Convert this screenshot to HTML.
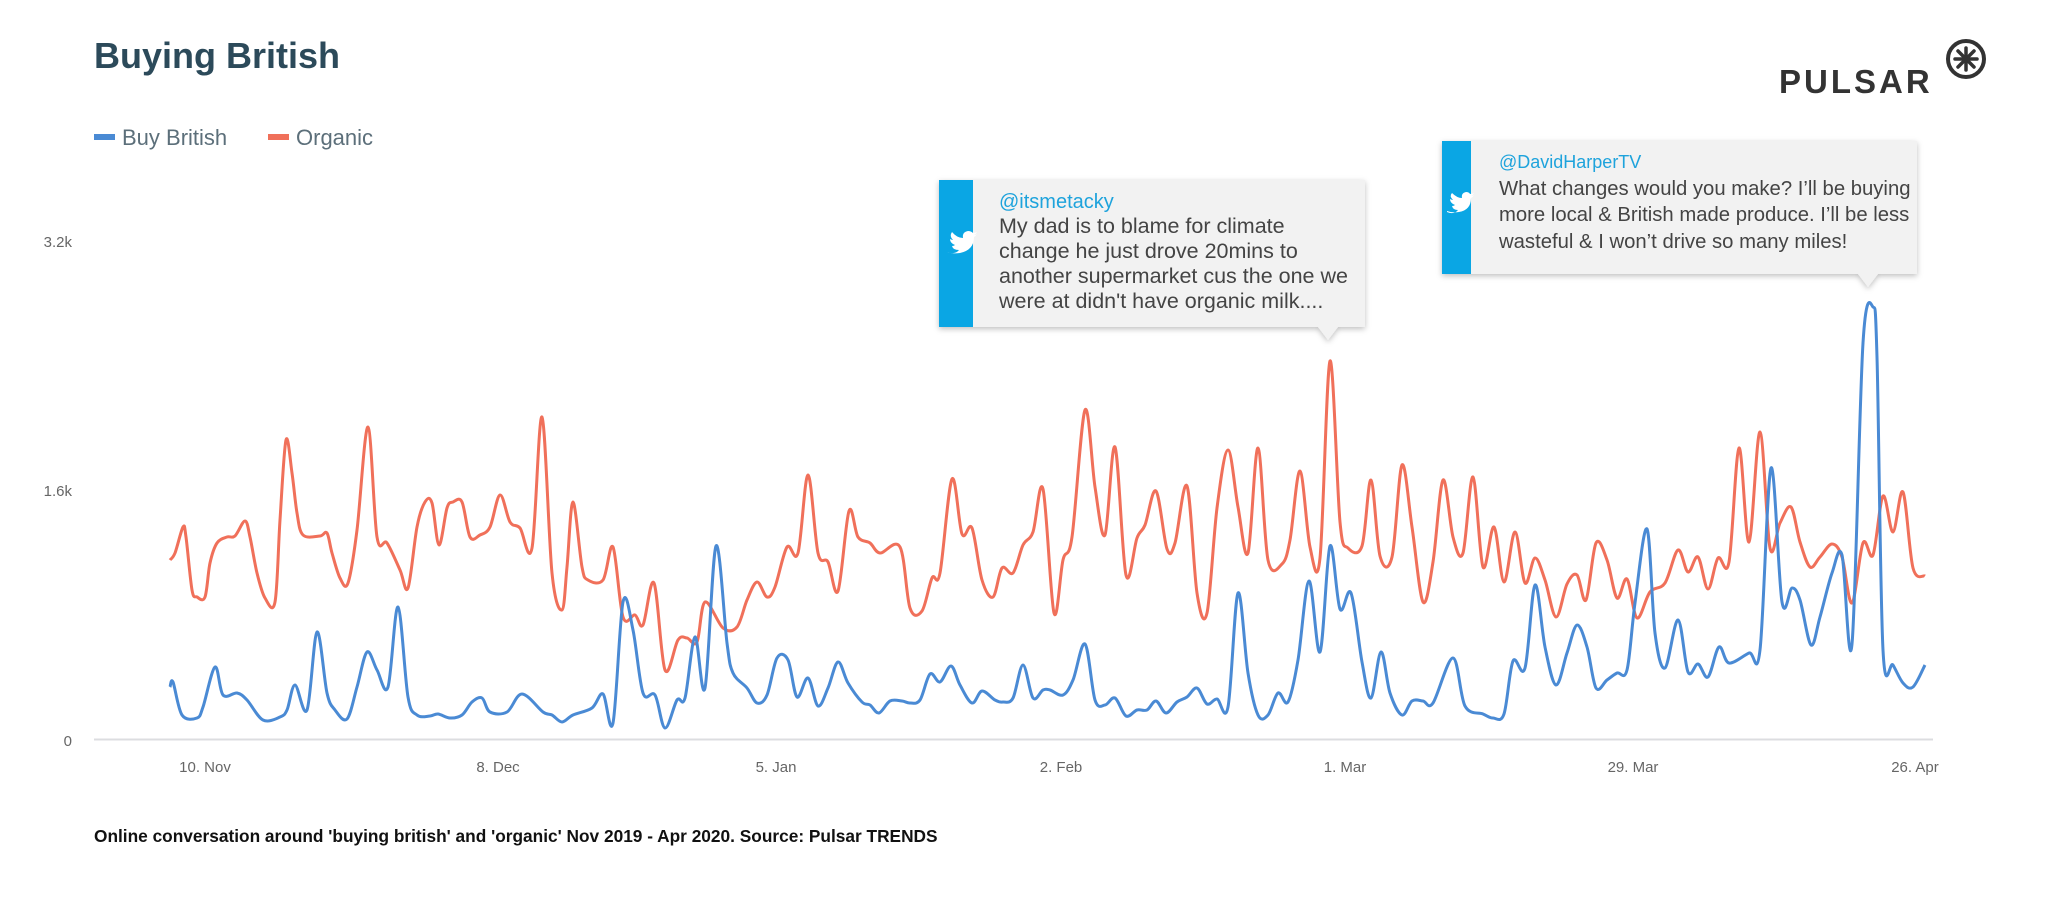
<!DOCTYPE html>
<html><head><meta charset="utf-8"><style>
html,body{margin:0;padding:0;background:#fff;}
svg{display:block;}
text{font-family:"Liberation Sans",sans-serif;}
</style></head><body>
<svg id="s" width="2048" height="897" viewBox="0 0 2048 897" xmlns="http://www.w3.org/2000/svg">
<defs><filter id="sh" x="-10%" y="-10%" width="120%" height="130%"><feDropShadow dx="0" dy="2" stdDeviation="3" flood-color="#000" flood-opacity="0.25"/></filter></defs>
<rect width="2048" height="897" fill="#fff"/>
<text x="94" y="68" font-size="36" font-weight="bold" fill="#2c4a5a">Buying British</text>
<rect x="94" y="134" width="21" height="6" fill="#4a8ad4"/>
<text x="122" y="145" font-size="22" fill="#5c6f7a">Buy British</text>
<rect x="268" y="134" width="21" height="6" fill="#f0705a"/>
<text x="296" y="145" font-size="22" fill="#5c6f7a">Organic</text>
<text x="1779" y="93" font-size="33" font-weight="bold" fill="#333" letter-spacing="3">PULSAR</text>
<circle cx="1966" cy="59" r="18" fill="none" stroke="#333" stroke-width="4"/>
<g stroke="#333" stroke-width="3.5" stroke-linecap="round"><line x1="1966" y1="48" x2="1966" y2="70"/><line x1="1955" y1="59" x2="1977" y2="59"/><line x1="1958" y1="51" x2="1974" y2="67"/><line x1="1974" y1="51" x2="1958" y2="67"/></g>
<g font-size="15" fill="#666" text-anchor="end"><text x="72" y="247">3.2k</text><text x="72" y="496">1.6k</text><text x="72" y="746">0</text></g>
<line x1="94" y1="739.5" x2="1933" y2="739.5" stroke="#dcdde0" stroke-width="2"/>
<g font-size="15" fill="#666" text-anchor="middle"><text x="205" y="772">10. Nov</text><text x="498" y="772">8. Dec</text><text x="776" y="772">5. Jan</text><text x="1061" y="772">2. Feb</text><text x="1345" y="772">1. Mar</text><text x="1633" y="772">29. Mar</text><text x="1915" y="772">26. Apr</text></g>
<path id="red" fill="none" stroke="#f0705a" stroke-width="3" stroke-linejoin="round"/>
<path id="blue" fill="none" stroke="#4a8ad4" stroke-width="3" stroke-linejoin="round"/>
<g filter="url(#sh)"><rect x="939" y="180" width="426" height="147" fill="#f2f2f2"/><polygon points="1318,327 1338,327 1328,340" fill="#f2f2f2"/></g>
<rect x="939" y="180" width="34" height="147" fill="#0aa6e4"/>
<path d="M947,252 q8,3 12,-2 q-6,0 -7,-4 q2,0 3,-1 q-5,-2 -5,-6 q2,1 3,1 q-4,-4 -1,-8 q5,6 11,6 q-1,-6 5,-7 q3,0 5,2 q2,0 4,-1 q-1,2 -3,3 q2,0 3,-1 q-1,2 -3,3 q0,13 -14,16 q-8,1 -13,-1z" fill="#fff"/>
<text x="999" y="208" font-size="20" fill="#1ea3dc">@itsmetacky</text>
<g font-size="21.5" fill="#444"><text x="999" y="233">My dad is to blame for climate</text><text x="999" y="258">change he just drove 20mins to</text><text x="999" y="283">another supermarket cus the one we</text><text x="999" y="308">were at didn't have organic milk....</text></g>
<g filter="url(#sh)"><rect x="1442" y="141" width="475" height="133" fill="#f2f2f2"/><polygon points="1858,274 1878,274 1868,287" fill="#f2f2f2"/></g>
<rect x="1442" y="141" width="29" height="133" fill="#0aa6e4"/>
<path d="M1447,212 q7,3 11,-2 q-5,0 -6,-4 q2,0 3,-1 q-5,-2 -5,-6 q2,1 3,1 q-4,-4 -1,-7 q5,5 10,5 q-1,-5 4,-6 q3,0 4,2 q2,0 4,-1 q-1,2 -3,3 q2,0 3,-1 q-1,2 -3,3 q0,12 -12,14 q-7,1 -12,-1z" fill="#fff"/>
<text x="1499" y="168" font-size="18" fill="#1ea3dc">@DavidHarperTV</text>
<g font-size="20.3" fill="#444"><text x="1499" y="195">What changes would you make? I’ll be buying</text><text x="1499" y="221">more local &amp; British made produce. I’ll be less</text><text x="1499" y="248">wasteful &amp; I won’t drive so many miles!</text></g>
<text x="94" y="842" font-size="17.3" fill="#111" font-weight="bold">Online conversation around 'buying british' and 'organic'  Nov 2019 - Apr 2020. Source: Pulsar TRENDS</text>
</svg>
<script>
var R=[[170,560],[175,553],[183,527],[186,537],[192,590],[197,597],[205,597],[210,563],[217,543],[227,537],[235,536],[245,521],[250,537],[257,573],[265,598],[275,602],[280,520],[286,440],[292,473],[297,513],[303,535],[320,536],[327,533],[332,553],[340,578],[348,583],[357,530],[368,427],[377,537],[387,543],[400,570],[408,588],[417,527],[425,502],[432,503],[439,545],[447,508],[453,502],[462,502],[470,537],[480,535],[490,527],[500,495],[510,522],[520,528],[532,548],[542,417],[552,573],[562,610],[567,567],[573,502],[582,567],[588,580],[603,580],
[613,547],[623,617],[635,615],[643,625],[654,583],[665,670],[678,640],[687,638],[697,642],[705,602],[723,628],[737,627],[747,600],[757,582],[767,597],[775,587],[787,547],[798,553],[808,475],[818,553],[828,562],[838,591],[849,511],[858,537],[870,543],[880,553],[900,547],[910,608],[922,611],[932,578],[940,573],[952,479],[962,534],[972,528],[982,580],[993,597],[1002,568],[1013,573],[1023,545],[1033,532],[1043,489],[1054,613],
[1063,560],[1072,537],[1085,410],[1095,487],[1105,535],[1115,447],[1126,575],[1137,538],[1145,525],[1156,491],[1167,549],[1175,543],[1187,486],[1197,593],[1207,613],[1217,508],[1228,450],[1238,507],[1248,553],[1258,448],[1268,560],[1282,564],[1290,540],[1300,471],[1310,547],[1320,558],[1330,361],[1340,522],[1348,548],[1362,546],[1371,480],[1380,556],[1392,557],[1402,465],[1412,527],[1423,602],[1433,562],[1443,480],[1453,537],[1463,553],[1473,477],[1483,567],[1494,527],
[1504,582],[1515,532],[1525,583],[1535,558],[1545,580],[1556,617],[1567,584],[1577,575],[1586,600],[1596,543],[1607,560],[1617,598],[1627,579],[1637,618],[1650,592],[1665,583],[1678,550],[1688,572],[1698,557],[1708,589],[1718,558],[1729,562],[1739,448],[1749,542],[1760,432],[1770,548],[1780,523],[1791,507],[1800,542],[1810,567],[1820,557],[1832,544],[1842,557],[1852,603],[1863,543],[1873,555],[1883,496],[1893,532],[1903,492],[1913,568],[1925,576]];
var B=[[170,687],[173,682],[182,715],[197,718],[203,707],[215,667],[223,695],[237,693],[247,700],[263,720],[280,717],[287,710],[295,685],[307,710],[317,632],[327,693],[335,710],[347,719],[357,687],[367,652],[377,670],[388,687],[398,607],[408,697],[417,715],[430,716],[438,714],[450,718],[462,715],[472,702],[482,698],[490,712],[507,712],[522,694],[543,712],[552,715],[562,722],[573,715],[592,708],[603,694],[613,723],
[623,602],[633,630],[643,693],[655,695],[665,728],[677,700],[685,698],[695,637],[705,688],[716,546],[727,643],[733,673],[747,688],[757,703],[767,695],[777,658],[788,660],[797,697],[808,678],[818,706],[828,688],[838,662],[848,683],[862,702],[870,705],[879,713],[890,701],[902,701],[910,703],[920,700],[930,674],[940,682],[951,666],[960,685],[972,703],[982,691],[995,700],[1003,702],[1013,698],[1023,665],[1033,698],[1043,690],
[1050,690],[1063,695],[1073,680],[1085,644],[1095,700],[1105,705],[1115,698],[1126,716],[1137,710],[1147,710],[1156,701],[1166,713],[1177,702],[1187,697],[1197,688],[1207,704],[1217,699],[1228,707],[1238,593],[1248,673],[1258,715],[1268,715],[1278,693],[1288,702],[1298,660],[1309,581],[1320,652],[1330,546],[1340,609],[1351,593],[1362,662],[1371,698],[1381,652],[1390,693],[1402,715],[1412,701],[1423,701],[1433,703],[1453,658],[1465,706],[1483,714],[1493,718],
[1504,714],[1513,661],[1525,668],[1535,585],[1545,647],[1556,685],[1567,653],[1577,625],[1587,647],[1596,688],[1607,680],[1617,673],[1627,670],[1635,603],[1647,529],[1655,633],[1665,668],[1678,620],[1688,672],[1698,664],[1708,677],[1719,647],[1729,663],[1749,653],[1760,650],[1771,468],[1782,602],[1792,588],[1800,600],[1811,645],[1820,617],[1832,573],[1842,555],[1852,644],[1863,343],[1873,307],[1877,357],[1883,650],[1893,665],[1903,683],[1913,687],[1925,665]];
function cr(p){var d="M"+p[0][0]+","+p[0][1];for(var i=0;i<p.length-1;i++){var p0=p[i-1]||p[i],p1=p[i],p2=p[i+1],p3=p[i+2]||p2;var t=6;d+=" C"+(p1[0]+(p2[0]-p0[0])/t).toFixed(1)+","+(p1[1]+(p2[1]-p0[1])/t).toFixed(1)+" "+(p2[0]-(p3[0]-p1[0])/t).toFixed(1)+","+(p2[1]-(p3[1]-p1[1])/t).toFixed(1)+" "+p2[0]+","+p2[1];}return d;}
document.getElementById("red").setAttribute("d",cr(R));
document.getElementById("blue").setAttribute("d",cr(B));
</script>
</body></html>
